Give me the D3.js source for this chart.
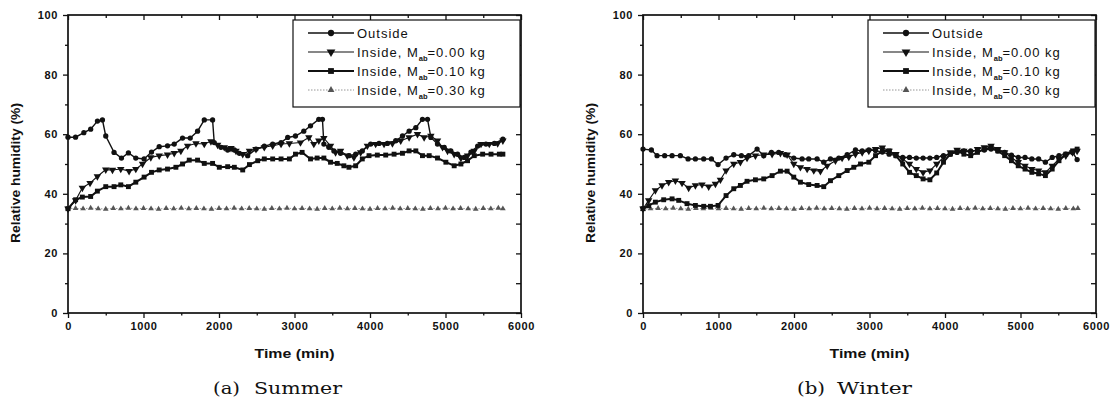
<!DOCTYPE html>
<html>
<head>
<meta charset="utf-8">
<script src="https://cdn.jsdelivr.net/npm/d3@7/dist/d3.min.js"></script>
<style>
    body { margin: 0; background: #fff; }
    text { fill: #111; }
</style>
</head>
<body>
<svg id="chart" width="1115" height="408"></svg>
<script>
// [time (min), relative humidity (%)]
const summerOutside = [[0,59.0],[100,59.0],[210,60.5],[300,61.7],[390,64.4],[456,64.8],[500,59.4],[610,53.9],[708,52.0],[800,53.7],[898,52.0],[1008,51.7],[1106,54.0],[1208,55.8],[1318,56.1],[1407,56.7],[1517,58.7],[1619,58.7],[1716,61.0],[1805,64.8],[1915,64.8],[1937,57.2],[2026,55.6],[2115,54.7],[2203,54.7],[2270,53.6],[2380,52.8],[2490,55.0],[2600,56.0],[2711,56.7],[2822,57.2],[2910,58.9],[3013,59.4],[3123,61.0],[3212,62.8],[3322,65.0],[3370,65.0],[3389,56.7],[3455,55.6],[3522,54.4],[3610,53.6],[3721,52.8],[3810,53.3],[3898,54.4],[4009,56.7],[4120,56.9],[4230,56.9],[4341,57.8],[4430,59.4],[4518,61.0],[4607,62.2],[4695,65.0],[4762,65.0],[4806,58.9],[4894,56.7],[4983,55.6],[5071,54.4],[5160,53.3],[5248,52.2],[5337,54.0],[5426,56.0],[5536,56.7],[5647,56.9],[5760,58.3]];
const summerIn000 = [[0,35.0],[101,37.8],[190,42.0],[292,43.6],[389,45.8],[500,48.1],[589,48.0],[699,48.3],[809,47.6],[898,48.3],[987,50.0],[1097,52.2],[1208,52.8],[1318,53.1],[1407,53.6],[1495,54.4],[1584,56.1],[1695,56.9],[1805,56.7],[1893,57.6],[1982,56.4],[2070,55.6],[2159,55.3],[2225,54.4],[2314,53.3],[2403,54.4],[2490,55.0],[2600,55.6],[2711,56.1],[2822,56.7],[2932,56.9],[3079,57.2],[3190,58.9],[3256,56.7],[3322,57.8],[3389,58.7],[3477,56.1],[3544,53.9],[3610,54.4],[3699,52.8],[3787,52.2],[3876,53.9],[3965,56.1],[4075,56.7],[4186,56.7],[4297,56.9],[4407,57.8],[4518,58.9],[4629,60.0],[4717,58.9],[4806,59.4],[4894,57.8],[4961,55.6],[5027,54.4],[5115,53.3],[5204,52.0],[5292,52.8],[5381,54.4],[5470,56.7],[5580,56.7],[5691,56.9],[5760,57.8]];
const summerIn010 = [[0,35.0],[101,38.0],[190,38.9],[300,39.1],[389,40.9],[500,42.4],[610,42.4],[699,43.0],[800,42.4],[898,43.9],[1008,45.6],[1106,47.2],[1208,48.0],[1318,48.3],[1429,48.9],[1517,50.0],[1606,51.3],[1716,51.3],[1805,50.2],[1915,50.2],[2004,48.9],[2115,49.1],[2203,48.9],[2314,48.0],[2403,49.8],[2513,51.1],[2600,51.7],[2711,51.7],[2822,51.7],[2932,51.7],[3013,53.3],[3101,53.9],[3212,51.7],[3300,52.0],[3389,52.0],[3477,50.6],[3566,50.2],[3654,49.4],[3721,48.9],[3810,49.4],[3898,51.7],[3987,52.8],[4097,53.0],[4208,53.0],[4319,53.3],[4430,53.6],[4518,54.4],[4607,54.4],[4695,52.8],[4784,52.8],[4894,52.0],[5005,50.6],[5115,49.4],[5204,50.0],[5292,51.1],[5381,52.8],[5492,53.3],[5603,53.3],[5713,53.3],[5760,53.3]];

const winterOutside = [[0,55.0],[111,54.7],[186,52.8],[287,52.8],[385,52.8],[495,52.8],[597,51.7],[694,51.7],[804,51.7],[906,51.7],[994,49.8],[1100,52.0],[1202,53.1],[1303,52.8],[1400,52.8],[1511,55.0],[1599,52.8],[1701,53.9],[1798,53.9],[1886,53.1],[1997,52.0],[2107,51.7],[2195,51.7],[2306,51.7],[2394,50.6],[2483,51.7],[2593,52.0],[2704,53.1],[2814,54.7],[2903,54.4],[2991,54.7],[3080,54.5],[3170,54.0],[3260,53.3],[3350,52.8],[3440,52.2],[3530,52.2],[3620,52.0],[3710,52.0],[3800,52.0],[3890,52.2],[3980,52.8],[4070,53.3],[4160,53.9],[4250,54.4],[4340,54.4],[4430,54.4],[4520,54.7],[4610,55.0],[4700,54.4],[4790,53.9],[4880,53.0],[4970,52.2],[5060,52.2],[5150,51.7],[5240,51.7],[5330,50.6],[5420,52.2],[5510,52.8],[5600,53.3],[5690,53.9],[5750,51.5]];
const winterIn000 = [[0,35.0],[75,37.8],[164,41.1],[252,42.8],[340,43.9],[429,44.4],[517,43.6],[605,42.0],[694,42.8],[782,43.1],[870,42.4],[959,43.3],[1025,44.7],[1100,47.8],[1202,50.0],[1290,50.6],[1378,52.0],[1489,52.8],[1599,53.1],[1710,53.3],[1820,53.6],[1909,53.1],[1997,50.0],[2085,48.9],[2174,48.3],[2262,47.8],[2350,47.6],[2439,49.4],[2549,51.1],[2637,52.0],[2726,52.4],[2814,53.3],[2903,53.9],[2991,54.4],[3080,55.0],[3170,55.5],[3260,54.4],[3350,53.3],[3440,51.7],[3530,50.0],[3620,48.3],[3710,47.2],[3800,47.8],[3890,50.0],[3980,52.2],[4070,53.9],[4160,54.7],[4250,54.4],[4340,53.9],[4430,55.0],[4520,55.6],[4610,56.1],[4700,55.0],[4790,53.9],[4880,52.2],[4970,50.6],[5060,49.4],[5150,48.3],[5240,47.8],[5330,47.2],[5420,49.4],[5510,51.7],[5600,52.8],[5690,53.9],[5750,54.4]];
const winterIn010 = [[0,35.0],[75,36.0],[164,37.2],[274,38.0],[385,38.3],[473,37.8],[583,36.7],[694,36.1],[804,35.8],[893,35.8],[994,36.1],[1100,39.4],[1202,41.7],[1290,42.8],[1378,44.2],[1489,44.7],[1599,45.0],[1710,46.1],[1820,47.6],[1909,47.6],[1997,45.6],[2085,43.9],[2195,43.1],[2306,42.8],[2394,42.4],[2483,44.4],[2593,46.1],[2704,47.8],[2792,48.9],[2881,50.0],[2991,50.6],[3080,52.8],[3170,54.4],[3260,54.4],[3350,52.8],[3440,50.0],[3530,47.2],[3620,46.1],[3710,45.0],[3800,44.7],[3890,47.0],[3980,50.6],[4070,53.3],[4160,54.4],[4250,53.3],[4340,52.8],[4430,53.9],[4520,55.0],[4610,55.6],[4700,54.4],[4790,52.8],[4880,51.1],[4970,49.4],[5060,48.3],[5150,47.2],[5240,46.7],[5330,46.1],[5420,48.3],[5510,51.1],[5600,53.3],[5690,54.4],[5750,55.0]];

// M_ab = 0.30 kg stays flat near 35 %
const flatTimes = [0,100,200,300,400,500,600,700,800,900,1000,1100,1200,1300,1400,1500,1600,1700,1800,1900,2000,2100,2200,2300,2400,2500,2600,2700,2800,2900,3000,3100,3200,3300,3400,3500,3600,3700,3800,3900,4000,4100,4200,4300,4400,4500,4600,4700,4800,4900,5000,5100,5200,5300,5400,5500,5600,5700,5760];
const summerIn030 = [35.0,35.1,35.0,35.2,35.0,34.9,35.1,35.0,35.2,35.0,35.1,35.0,34.9,35.1,35.0,35.2,35.0,35.1,35.0,34.9,35.1,35.0,35.2,35.0,35.1,35.0,34.9,35.1,35.0,35.2,35.0,35.1,35.0,34.9,35.1,35.0,35.2,35.0,35.1,35.0,34.9,35.1,35.0,35.2,35.0,35.1,35.0,34.9,35.1,35.0,35.2,35.0,35.1,35.0,34.9,35.1,35.0,35.2,35.0];
const winterIn030 = [34.8,35.0,35.1,35.0,35.2,35.0,34.9,35.1,35.0,35.2,35.0,35.1,35.0,34.9,35.1,35.0,35.2,35.0,35.1,35.0,34.9,35.1,35.0,35.2,35.0,35.1,35.0,34.9,35.1,35.0,35.2,35.0,35.1,35.0,34.9,35.1,35.0,35.2,35.0,35.1,35.0,34.9,35.1,35.0,35.2,35.0,35.1,35.0,34.9,35.1,35.0,35.2,35.0,35.1,35.0,34.9,35.1,35.0,35.1];

const xTicks = [0, 1000, 2000, 3000, 4000, 5000, 6000];
const xMinor = [500, 1500, 2500, 3500, 4500, 5500];
const yTicks = [0, 20, 40, 60, 80, 100];
const yMinor = [10, 30, 50, 70, 90];

const legendNames = [
    { main: "Outside" },
    { main: "Inside, M", sub: "ab", rest: "=0.00 kg" },
    { main: "Inside, M", sub: "ab", rest: "=0.10 kg" },
    { main: "Inside, M", sub: "ab", rest: "=0.30 kg" }
];

const styles = [
    { symbol: d3.symbolCircle, size: 22, rot: 0, width: 1.4, color: "#111", dash: null, mfill: "#111" },
    { symbol: d3.symbolTriangle, size: 24, rot: 180, width: 1.1, color: "#111", dash: null, mfill: "#111" },
    { symbol: d3.symbolSquare, size: 24, rot: 0, width: 2, color: "#111", dash: null, mfill: "#111" },
    { symbol: d3.symbolTriangle, size: 14, rot: 0, width: 0.9, color: "#8a8a8a", dash: "1.5,1.5", mfill: "#555" }
];

const sans = "'Liberation Sans', Arial, sans-serif";
const serif = "'DejaVu Serif', 'Liberation Serif', serif";
const svg = d3.select("#chart");

function drawPanel(left, series, caption) {
    const right = left + 453, top = 15, bottom = 313;
    const x = d3.scaleLinear().domain([0, 6000]).range([left, right]);
    const y = d3.scaleLinear().domain([0, 100]).range([bottom, top]);
    const g = svg.append("g").style("font-family", sans);
    const fmt = d3.format("d");

    // ticks: outward on left/bottom, inward on top/right
    const axes = [
        [d3.axisBottom(x).tickValues(xTicks).tickSize(5).tickPadding(4).tickFormat(fmt), "translate(0," + bottom + ")", true],
        [d3.axisBottom(x).tickValues(xMinor).tickSize(2.5).tickFormat(""), "translate(0," + bottom + ")", false],
        [d3.axisLeft(y).tickValues(yTicks).tickSize(5).tickPadding(5).tickFormat(fmt), "translate(" + left + ",0)", true],
        [d3.axisLeft(y).tickValues(yMinor).tickSize(3).tickFormat(""), "translate(" + left + ",0)", false],
        [d3.axisTop(x).tickValues(xTicks).tickSize(-5).tickFormat(""), "translate(0," + top + ")", false],
        [d3.axisTop(x).tickValues(xMinor).tickSize(-3).tickFormat(""), "translate(0," + top + ")", false],
        [d3.axisRight(y).tickValues(yTicks.concat(yMinor)).tickSize(-5).tickFormat(""), "translate(" + right + ",0)", false]
    ];
    axes.forEach(a => {
        const ax = g.append("g").attr("transform", a[1]).call(a[0]);
        ax.select(".domain").remove();
        ax.selectAll("line").attr("stroke", "#111").attr("stroke-width", 1.3);
        if (a[2]) {
            ax.selectAll("text")
                .attr("font-size", 11)
                .attr("font-weight", "bold")
                .style("font-family", sans)
                .style("letter-spacing", "0.6px")
                .attr("fill", "#111");
        }
    });

    g.append("rect")
        .attr("x", left).attr("y", top)
        .attr("width", right - left).attr("height", bottom - top)
        .attr("fill", "none").attr("stroke", "#111").attr("stroke-width", 1.7);

    const line = d3.line().x(d => x(d[0])).y(d => y(d[1]));

    // draw thin/gray first, heavy last
    [3, 1, 2, 0].forEach(i => {
        const st = styles[i];
        const data = series[i];
        g.append("path")
            .datum(data)
            .attr("d", line)
            .attr("fill", "none")
            .attr("stroke", st.color)
            .attr("stroke-width", st.width)
            .attr("stroke-dasharray", st.dash);
        g.append("g").selectAll("path")
            .data(data)
            .join("path")
            .attr("d", d3.symbol().type(st.symbol).size(st.size))
            .attr("transform", d => "translate(" + x(d[0]) + "," + y(d[1]) + ") rotate(" + st.rot + ")")
            .attr("fill", st.mfill);
    });

    // legend
    const lx = right - 228, ly = 20;
    const lg = g.append("g").attr("transform", "translate(" + lx + "," + ly + ")");
    lg.append("rect")
        .attr("width", 227).attr("height", 87)
        .attr("fill", "#fff").attr("stroke", "#111").attr("stroke-width", 1.2);
    legendNames.forEach((n, i) => {
        const st = styles[i];
        const cy = 13 + i * 19;
        lg.append("line")
            .attr("x1", 15).attr("x2", 61).attr("y1", cy).attr("y2", cy)
            .attr("stroke", st.color).attr("stroke-width", st.width)
            .attr("stroke-dasharray", st.dash);
        lg.append("path")
            .attr("d", d3.symbol().type(st.symbol).size(st.size * 1.4))
            .attr("transform", "translate(38," + cy + ") rotate(" + st.rot + ")")
            .attr("fill", st.mfill);
        const t = lg.append("text")
            .attr("x", 64).attr("y", cy + 4.5)
            .attr("font-size", 13)
            .style("letter-spacing", "1px");
        t.append("tspan").text(n.main);
        if (n.sub) {
            t.append("tspan").attr("font-size", 7.5).attr("font-weight", "bold").attr("dy", 4).style("letter-spacing", "0px").text(n.sub);
            t.append("tspan").attr("dy", -4).text(n.rest);
        }
    });

    // axis titles
    g.append("text")
        .attr("x", (left + right) / 2).attr("y", 358)
        .attr("text-anchor", "middle")
        .attr("font-size", 13).attr("font-weight", "bold")
        .attr("textLength", 80).attr("lengthAdjust", "spacingAndGlyphs")
        .text("Time (min)");
    g.append("text")
        .attr("transform", "translate(" + (left - 48) + ",173) rotate(-90)")
        .attr("text-anchor", "middle")
        .attr("font-size", 13).attr("font-weight", "bold")
        .attr("textLength", 140).attr("lengthAdjust", "spacingAndGlyphs")
        .text("Relative humidity (%)");

    // caption
    const cap = g.append("g").style("font-family", serif);
    cap.append("text")
        .attr("x", caption.x).attr("y", 394)
        .attr("font-size", 16).style("font-family", serif)
        .attr("textLength", caption.w1).attr("lengthAdjust", "spacingAndGlyphs")
        .text(caption.label);
    cap.append("text")
        .attr("x", caption.x2).attr("y", 394)
        .attr("font-size", 16).style("font-family", serif)
        .attr("textLength", caption.w2).attr("lengthAdjust", "spacingAndGlyphs")
        .text(caption.word);
}

function withTimes(vals) {
    return vals.map((v, i) => [flatTimes[i], v]);
}

drawPanel(68, [summerOutside, summerIn000, summerIn010, withTimes(summerIn030)],
    { label: "(a)", word: "Summer", x: 213, w1: 27, x2: 254, w2: 88 });
drawPanel(643, [winterOutside, winterIn000, winterIn010, withTimes(winterIn030)],
    { label: "(b)", word: "Winter", x: 797, w1: 28, x2: 837, w2: 75 });
</script>
</body>
</html>
